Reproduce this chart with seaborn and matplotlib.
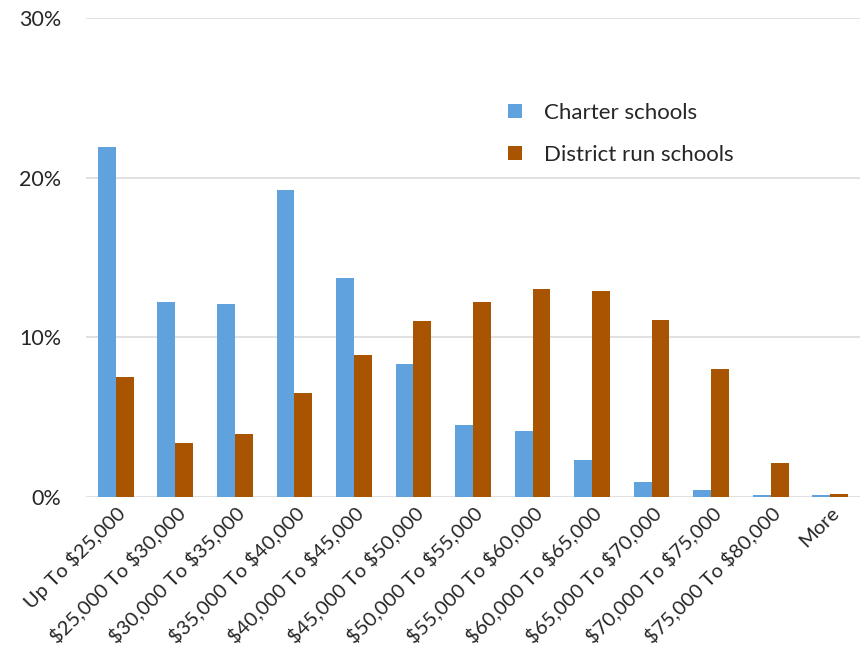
import pandas as pd
import seaborn as sns
import matplotlib.pyplot as plt
from matplotlib.ticker import FuncFormatter

# Categorias de salário
faixas = ['Up To $25,000', '$25,000 To $30,000', '$30,000 To $35,000',
          '$35,000 To $40,000', '$40,000 To $45,000', '$45,000 To $50,000',
          '$50,000 To $55,000', '$55,000 To $60,000', '$60,000 To $65,000',
          '$65,000 To $70,000', '$70,000 To $75,000', '$75,000 To $80,000', 'More']

# Percentuais
charter = [21.9, 12.2, 12.1, 19.2, 13.7, 8.35, 4.5, 4.1, 2.3, 0.94, 0.44, 0.13, 0.1]
district = [7.5, 3.4, 3.95, 6.5, 8.9, 11.0, 12.2, 13.05, 12.9, 11.1, 8.0, 2.1, 0.17]

series = ['Charter schools', 'District run schools']
cores = ['#5fa2dd', '#a85400']

df = pd.DataFrame({
    'Faixa': faixas * 2,
    'Tipo': [series[0]] * len(faixas) + [series[1]] * len(faixas),
    'Valor': charter + district,
})

sns.set_style('white')
plt.rcParams['font.family'] = ['Lato', 'DejaVu Sans']
plt.rcParams['text.parse_math'] = False  # os "$" são texto, não mathtext

fig = plt.figure(figsize=(8.6, 6.66), dpi=100)
ax = fig.add_axes([0.1, 0.254, 0.9, 0.719])

sns.barplot(data=df, x='Faixa', y='Valor', hue='Tipo', palette=cores,
            width=0.6, gap=0, ax=ax, saturation=1, linewidth=0)

ax.set_ylim(0, 30)
ax.set_yticks([0, 10, 20, 30])
ax.yaxis.set_major_formatter(FuncFormatter(lambda v, p: f'{v:.0f}%'))
ax.grid(axis='y', color='#dcdcdc', linewidth=1.2)
ax.set_axisbelow(True)
for s in ax.spines.values():
    s.set_visible(False)

ax.set_xlabel('')
ax.set_ylabel('')
ax.set_xlim(-0.5, len(faixas) - 0.5)
ax.tick_params(axis='y', labelsize=15.5, pad=18, length=0)
ax.tick_params(axis='x', labelsize=14.5, length=0, pad=5)
plt.setp(ax.get_xticklabels(), rotation=45, ha='right', rotation_mode='anchor')

leg = ax.legend(loc='upper left', bbox_to_anchor=(0.52, 0.865), frameon=False,
                fontsize=16, handlelength=0.6, handleheight=0.6,
                labelspacing=1.0, handletextpad=1.0)

fig.savefig('out.png', dpi=100)
